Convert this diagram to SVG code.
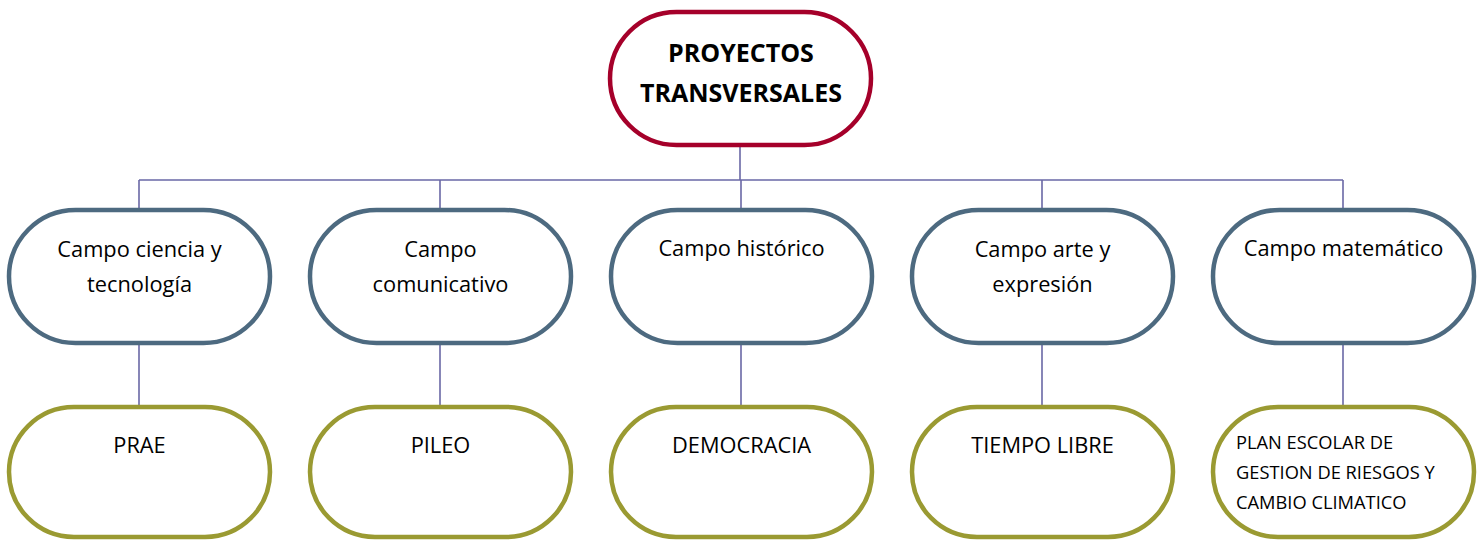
<svg xmlns="http://www.w3.org/2000/svg" width="1481" height="540" viewBox="0 0 1481 540">
<style>
.top{fill:#fff;stroke:#A5002A;stroke-width:4.5}
.mid{fill:#fff;stroke:#4D6A80;stroke-width:4.5}
.bot{fill:#fff;stroke:#9A9A32;stroke-width:4.5}
.conn{fill:none;stroke:#6A68A6;stroke-width:1.6}
text{font-family:"Open Sans","Liberation Sans",sans-serif;fill:#000}
.t1{font-size:25px;font-weight:bold;text-anchor:middle}
.t2{font-size:21.8px;text-anchor:middle}
.t3{font-size:18.3px}
</style>
<rect width="1481" height="540" fill="#fff"/>
<g id="connectors">
<path class="conn" d="M740 145V180M139 180H1343M139 180V209M440 180V209M741 180V209M1042 180V209M1343 180V209M139 343V407M440 343V407M741 343V407M1042 343V407M1343 343V407"/>
</g>
<g id="n-root"><rect class="top" x="610" y="12" width="261" height="133" rx="66.5"/><text class="t1" x="741" y="62">PROYECTOS</text><text class="t1" x="741" y="102">TRANSVERSALES</text></g>
<g id="n-ciencia"><rect class="mid" x="9" y="210" width="261" height="133" rx="66.5"/><text class="t2" x="139.5" y="257">Campo ciencia y</text><text class="t2" x="139.5" y="292">tecnología</text></g>
<g id="n-comunicativo"><rect class="mid" x="310" y="210" width="261" height="133" rx="66.5"/><text class="t2" x="440.5" y="257">Campo</text><text class="t2" x="440.5" y="292">comunicativo</text></g>
<g id="n-historico"><rect class="mid" x="611" y="210" width="261" height="133" rx="66.5"/><text class="t2" x="741.5" y="256">Campo histórico</text></g>
<g id="n-arte"><rect class="mid" x="912" y="210" width="261" height="133" rx="66.5"/><text class="t2" x="1042.5" y="257">Campo arte y</text><text class="t2" x="1042.5" y="292">expresión</text></g>
<g id="n-matematico"><rect class="mid" x="1213" y="210" width="261" height="133" rx="66.5"/><text class="t2" x="1343.5" y="256">Campo matemático</text></g>
<g id="n-prae"><rect class="bot" x="9" y="407" width="261" height="130" rx="65"/><text class="t2" x="139.5" y="453">PRAE</text></g>
<g id="n-pileo"><rect class="bot" x="310" y="407" width="261" height="130" rx="65"/><text class="t2" x="440.5" y="453">PILEO</text></g>
<g id="n-democracia"><rect class="bot" x="611" y="407" width="261" height="130" rx="65"/><text class="t2" x="741.5" y="453">DEMOCRACIA</text></g>
<g id="n-tiempo"><rect class="bot" x="912" y="407" width="261" height="130" rx="65"/><text class="t2" x="1042.5" y="453">TIEMPO LIBRE</text></g>
<g id="n-plan"><rect class="bot" x="1213" y="407" width="261" height="130" rx="65"/><text class="t3" x="1236" y="449">PLAN ESCOLAR DE</text><text class="t3" x="1236" y="479">GESTION DE RIESGOS Y</text><text class="t3" x="1236" y="509">CAMBIO CLIMATICO</text></g>
</svg>
